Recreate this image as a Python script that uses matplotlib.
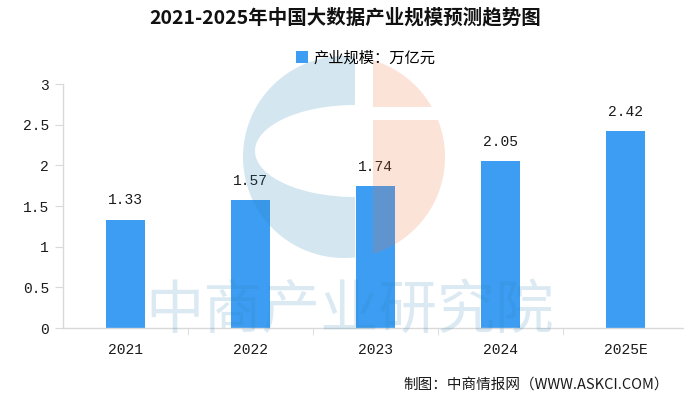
import numpy as np
import matplotlib
matplotlib.use("Agg")
import matplotlib.pyplot as plt
from matplotlib.patches import Polygon

plt.rcParams["font.family"] = ["Noto Sans CJK SC", "DejaVu Sans"]

years = ["2021", "2022", "2023", "2024", "2025E"]
scale = [1.33, 1.57, 1.74, 2.05, 2.42]
y_ticks = [0, 0.5, 1, 1.5, 2, 2.5, 3]
y_tick_labels = ["0", "0.5", "1", "1.5", "2", "2.5", "3"]

BAR = "#3d9df3"
AXIS = "#d9d9d9"
TEXT = "#1a1a1a"
MONO = ["Liberation Mono", "DejaVu Sans Mono"]

W, H = 684, 399
fig = plt.figure(figsize=(W / 100, H / 100), dpi=100)

# main axes placed in pixel terms
left, right, top, bottom = 63, 688, 84, 328
ax = fig.add_axes([left / W, 1 - bottom / H, (right - left) / W, (bottom - top) / H])

x = np.arange(len(years))
bars = ax.bar(x, scale, width=0.31, color=BAR, label="产业规模：万亿元", zorder=2)
for b, v in zip(bars, scale):
    ax.annotate(f"{v:.2f}", (b.get_x() + b.get_width() / 2, v),
                xytext=(0, 9), textcoords="offset points",
                ha="center", va="bottom", fontsize=10.5, color=TEXT, family=MONO)

ax.set_xlim(-0.5, len(years) - 0.5)
ax.set_ylim(0, 3)
ax.set_yticks(y_ticks, labels=y_tick_labels)
ax.set_xticks(x, labels=years)
ax.set_xticks(x[:-1] + 0.5, minor=True)
ax.tick_params(axis="x", which="major", length=0, pad=11, labelsize=10.5, labelcolor=TEXT)
ax.tick_params(axis="x", which="minor", length=5, color=AXIS)
ax.tick_params(axis="y", length=6, color=AXIS, pad=4, labelsize=10.5, labelcolor=TEXT)
for lab in ax.get_xticklabels() + ax.get_yticklabels():
    lab.set_family(MONO)
for s in ("top", "right"):
    ax.spines[s].set_visible(False)
for s in ("left", "bottom"):
    ax.spines[s].set_color(AXIS)
    ax.spines[s].set_linewidth(1)

fig.text(0.505, 0.955, "2021-2025年中国大数据产业规模预测趋势图",
         ha="center", va="center", fontsize=14, fontweight="bold", color="#111111")
fig.legend(handles=[bars], labels=["产业规模：万亿元"], loc="center",
           bbox_to_anchor=(0.535, 0.855), frameon=False, fontsize=11,
           handlelength=0.75, handleheight=0.75, handletextpad=0.4)
fig.text(0.978, 0.035, "制图：中商情报网（WWW.ASKCI.COM）",
         ha="right", va="center", fontsize=10.5, color=TEXT)

# watermark overlay in pixel coordinates
wm = fig.add_axes([0, 0, 1, 1], zorder=5)
wm.set_xlim(0, W)
wm.set_ylim(H, 0)
wm.axis("off")
wm.patch.set_alpha(0)

wm_blue = (40 / 255, 130 / 255, 180 / 255)
cx, cy, r = 344, 157, 101
t = np.radians(np.linspace(83.7, 276.3, 120))
outer = np.column_stack([cx + r * np.cos(t), cy - r * np.sin(t)])
th = np.radians(np.linspace(270, 90, 80))
hole = np.column_stack([355 + 100 * np.cos(th), 151 - 46 * np.sin(th)])
blue_pts = np.vstack([outer, hole])
wm.add_patch(Polygon(blue_pts, closed=True, facecolor=wm_blue, alpha=0.2, edgecolor="none"))

orange = (235 / 255, 115 / 255, 60 / 255)
t1 = np.radians(np.linspace(29.7, 73.3, 40))
up = np.column_stack([cx + r * np.cos(t1), cy - r * np.sin(t1)])
up = np.vstack([up, [[373, 107]]])
t2 = np.radians(np.linspace(-73.3, 21.5, 80))
lo = np.column_stack([cx + r * np.cos(t2), cy - r * np.sin(t2)])
lo = np.vstack([lo, [[373, 120]]])
for pts in (up, lo):
    wm.add_patch(Polygon(pts, closed=True, facecolor=orange, alpha=0.2, edgecolor="none"))

wm.text(350, 311, "中商产业研究院", ha="center", va="center", fontsize=42,
        color=wm_blue, alpha=0.17)

fig.savefig("out.png", dpi=100)
